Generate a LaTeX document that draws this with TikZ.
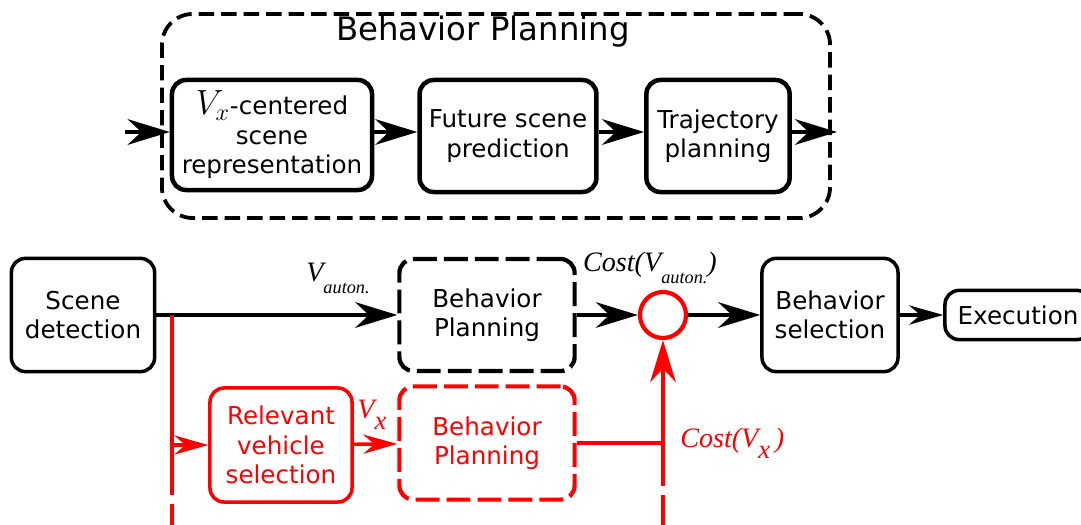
\documentclass[tikz,border=0pt]{standalone}
\usepackage{fontspec}
\setmainfont{DejaVu Sans}
\newfontfamily\labfont{Liberation Serif}
\usetikzlibrary{positioning,arrows.meta,calc}
\newcommand\labsub[2][13]{\raisebox{-0.9ex}{\fontsize{#1}{#1}\selectfont #2}}

\begin{document}
\begin{tikzpicture}[
  x=0.025cm, y=-0.025cm,
  font=\fontsize{17.5}{21}\selectfont,
  box/.style={draw, line width=2.5pt, rounded corners=10pt, align=center, inner sep=2pt},
  topbox/.style={box, line width=3.2pt, minimum height=2.8cm},
  dbox/.style={box, line width=3pt, dash pattern=on 17pt off 5pt},
  arr/.style={-{Stealth[length=1.05cm, width=0.64cm, inset=0.34cm]}, line width=3pt},
  sarr/.style={-{Stealth[length=0.85cm, width=0.48cm, inset=0.28cm]}, line width=2.5pt},
  lab/.style={font=\fontsize{20}{22}\selectfont\labfont\itshape, inner sep=0pt},
]
  \useasboundingbox (0,0) rectangle (1081,525);

  % detail of the planning block
  \node[draw, line width=2.7pt, dash pattern=on 11pt off 5pt, rounded corners=22pt,
        minimum width=16.7cm, minimum height=5.1cm] (bpdetail) at (496,116) {};
  \node[font=\fontsize{23}{26}\selectfont] (bptitle) at (483,32) {Behavior Planning};
  \node[topbox, minimum width=5cm, minimum height=2.75cm] (vxrep) at (272,135)
    {{\fontsize{24}{21}\selectfont$V_x$}-centered\\scene\\representation};
  \node[topbox, minimum width=4.42cm] (future) at (508,136) {Future scene\\prediction};
  \node[topbox, minimum width=3.58cm] (traj) at (718,136) {Trajectory\\planning};
  \coordinate (bpin) at (125,132);
  \coordinate (bpout) at (837,132);
  \draw[arr] (bpin) -- (bpin -| vxrep.west);
  \draw[arr] (vxrep.east |- bpin) -- (bpin -| future.west);
  \draw[arr] (future.east |- bpin) -- (bpin -| traj.west);
  \draw[arr] (traj.east |- bpout) -- (bpout);

  % main pipeline
  \node[box, minimum width=3.58cm, minimum height=2.83cm] (scene) at (83,315) {Scene\\detection};
  \node[box, dbox, minimum width=4.38cm, minimum height=2.8cm] (bpauton) at (487,315) {Behavior\\Planning};
  \node[draw=red, circle, line width=3pt, minimum size=1.15cm] (costsum) at (663,315) {};
  \node[box, minimum width=3.4cm, minimum height=2.83cm] (bsel) at (830,315) {Behavior\\selection};
  \node[box, minimum width=3.65cm, minimum height=1.23cm] (exec) at (1018,315) {Execution};
  \draw[arr] (scene) -- (bpauton);
  \draw[arr] (bpauton) -- (costsum);
  \draw[arr] (costsum) -- (bsel);
  \draw[sarr, line width=3pt] (bsel) -- (exec);
  \node[lab, anchor=base] (vauton) at (338,282) {V\labsub{auton.}};
  \node[lab, anchor=base] (costauton) at (650,272) {Cost(V\labsub{auton.})};

  % other vehicles branch
  \node[box, draw=red, text=red, minimum width=3.55cm, minimum height=2.85cm] (rvs) at (281,445)
    {Relevant\\vehicle\\selection};
  \node[box, dbox, draw=red, text=red, minimum width=4.38cm, minimum height=2.83cm] (bpvx) at (487,443)
    {Behavior\\Planning};
  \coordinate (split) at (172,315);
  \coordinate (splitend) at (172,460);
  \coordinate (splitbot) at (172,530);
  \coordinate (costend) at (663,460);
  \coordinate (costbot) at (663,530);
  \draw[red, line width=2.5pt] (split) -- (splitend);
  \draw[red, line width=2.5pt, dash pattern=on 25pt off 6pt] (splitend) -- (splitbot);
  \draw[sarr, red] (split |- rvs.west) -- (rvs.west);
  \draw[sarr, red] (rvs) -- (bpvx);
  \draw[red, line width=2.5pt] (bpvx.east) -- (bpvx.east -| costsum);
  \draw[arr, red, line width=2.5pt] (costend) -- (costsum);
  \draw[red, line width=2.5pt, dash pattern=on 25pt off 6pt] (costbot) -- (costend);
  \node[lab, text=red, anchor=base] (vxlab) at (372,418) {V\labsub[19]{x}};
  \node[lab, text=red, anchor=base west] (costvx) at (680,447) {Cost(V\labsub[19]{x}\,)};
\end{tikzpicture}
\end{document}
